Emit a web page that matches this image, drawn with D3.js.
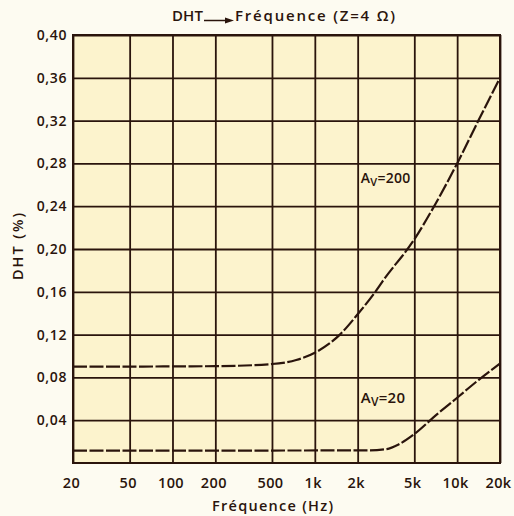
<!DOCTYPE html>
<html>
<head>
<meta charset="utf-8">
<script src="https://cdn.jsdelivr.net/npm/d3@7"></script>
<style>
  body { margin: 0; background: #fdfbf1; }
  text { font-family: "Open Sans", sans-serif; font-weight: 600; fill: #2a140c; }
</style>
</head>
<body>
<div id="chart"></div>
<script>
let freq_ticks = [20, 50, 100, 200, 500, 1000, 2000, 5000, 10000, 20000];
let freq_labels = ["20", "50", "100", "200", "500", "1k", "2k", "5k", "10k", "20k"];
let dht_ticks = [0.04, 0.08, 0.12, 0.16, 0.20, 0.24, 0.28, 0.32, 0.36, 0.40];

// Av = 200
let av200_freq = [20, 200, 500, 740, 1000, 1500, 2000, 2660, 3000, 5000, 7100, 10000, 14100, 20000];
let av200_dht = [0.090, 0.0905, 0.0925, 0.0962, 0.103, 0.120, 0.139, 0.160, 0.170, 0.209, 0.243, 0.280, 0.320, 0.360];

// Av = 20
let av20_freq = [20, 2400, 3200, 3900, 5000, 7070, 10000, 14100, 20000];
let av20_dht = [0.0115, 0.0118, 0.013, 0.0175, 0.027, 0.0445, 0.061, 0.0775, 0.093];

let chart_width = 514;
let chart_height = 516;
let ink = "#2a140c";

let svg = d3.select("#chart").append("svg")
    .attr("width", chart_width)
    .attr("height", chart_height);

let plot_left = 73, plot_right = 500, plot_top = 35, plot_bottom = 463;

let xScale = d3.scaleLog().domain([20, 20000]).range([plot_left, plot_right]);
let yScale = d3.scaleLinear().domain([0, 0.40]).range([plot_bottom, plot_top]);

svg.append("rect")
    .attr("x", plot_left)
    .attr("y", plot_top)
    .attr("width", plot_right - plot_left)
    .attr("height", plot_bottom - plot_top)
    .attr("fill", "#fcf3cd");

// vertical grid + x labels
let x_axis = svg.append("g")
    .attr("transform", "translate(0," + plot_bottom + ")")
    .call(d3.axisBottom(xScale)
        .tickValues(freq_ticks)
        .tickSize(-(plot_bottom - plot_top))
        .tickPadding(15)
        .tickFormat(function(d, i) { return freq_labels[i]; }));
x_axis.select(".domain").remove();
x_axis.selectAll("line").attr("stroke", ink).attr("stroke-width", 1.8);
x_axis.selectAll("text").attr("font-size", 14.5).attr("letter-spacing", 0.4).attr("dx", "-2");

// horizontal grid + y labels
let y_axis = svg.append("g")
    .attr("transform", "translate(" + plot_left + ",0)")
    .call(d3.axisLeft(yScale)
        .tickValues(dht_ticks)
        .tickSize(-(plot_right - plot_left))
        .tickPadding(6)
        .tickFormat(function(d) { return d3.format(".2f")(d).replace(".", ","); }));
y_axis.select(".domain").remove();
y_axis.selectAll("line").attr("stroke", ink).attr("stroke-width", 1.8);
y_axis.selectAll("text").attr("font-size", 14).attr("letter-spacing", 0.6);

// frame
svg.append("rect")
    .attr("x", plot_left)
    .attr("y", plot_top)
    .attr("width", plot_right - plot_left)
    .attr("height", plot_bottom - plot_top)
    .attr("fill", "none")
    .attr("stroke", ink)
    .attr("stroke-width", 2);

let curve = d3.line()
    .x(function(d) { return xScale(d[0]); })
    .y(function(d) { return yScale(d[1]); })
    .curve(d3.curveMonotoneX);

let series = [
    { freq: av200_freq, dht: av200_dht, label: "200", label_at: [2000, 0.262], size: 14 },
    { freq: av20_freq, dht: av20_dht, label: "20", label_at: [2000, 0.056], size: 15 }
];

series.forEach(function(s) {
    let pts = s.freq.map(function(f, i) { return [f, s.dht[i]]; });
    svg.append("path")
        .attr("d", curve(pts))
        .attr("fill", "none")
        .attr("stroke", ink)
        .attr("stroke-width", 2.2)
        .attr("stroke-dasharray", "14,2.5");

    let t = svg.append("text")
        .attr("x", xScale(s.label_at[0]) + 3)
        .attr("y", yScale(s.label_at[1]))
        .attr("font-size", s.size)
        .attr("letter-spacing", 0.3);
    t.append("tspan").text("A");
    t.append("tspan").attr("font-size", s.size - 3).attr("dy", 3).text("V");
    t.append("tspan").attr("dy", -3).text("=" + s.label);
});

// title
let title_y = 21;
svg.append("text")
    .attr("x", 172)
    .attr("y", title_y)
    .attr("font-size", 15)
    .attr("textLength", 31)
    .attr("lengthAdjust", "spacing")
    .text("DHT");
svg.append("line")
    .attr("x1", 204).attr("x2", 228)
    .attr("y1", title_y - 0.5).attr("y2", title_y - 0.5)
    .attr("stroke", ink).attr("stroke-width", 1.5);
svg.append("path")
    .attr("d", "M225," + (title_y - 3.5) + " L234," + (title_y - 0.5) + " L225," + (title_y + 2.5) + " Z")
    .attr("fill", ink);
svg.append("text")
    .attr("x", 235)
    .attr("y", title_y)
    .attr("font-size", 15)
    .attr("textLength", 160)
    .attr("lengthAdjust", "spacing")
    .text("Fréquence (Z=4 Ω)");

// axis titles
svg.append("text")
    .attr("x", 212)
    .attr("y", 511)
    .attr("font-size", 14.5)
    .attr("textLength", 121)
    .attr("lengthAdjust", "spacing")
    .text("Fréquence (Hz)");

svg.append("text")
    .attr("transform", "translate(23,280) rotate(-90)")
    .attr("font-size", 14.5)
    .attr("textLength", 67)
    .attr("lengthAdjust", "spacing")
    .text("DHT (%)");
</script>
</body>
</html>
